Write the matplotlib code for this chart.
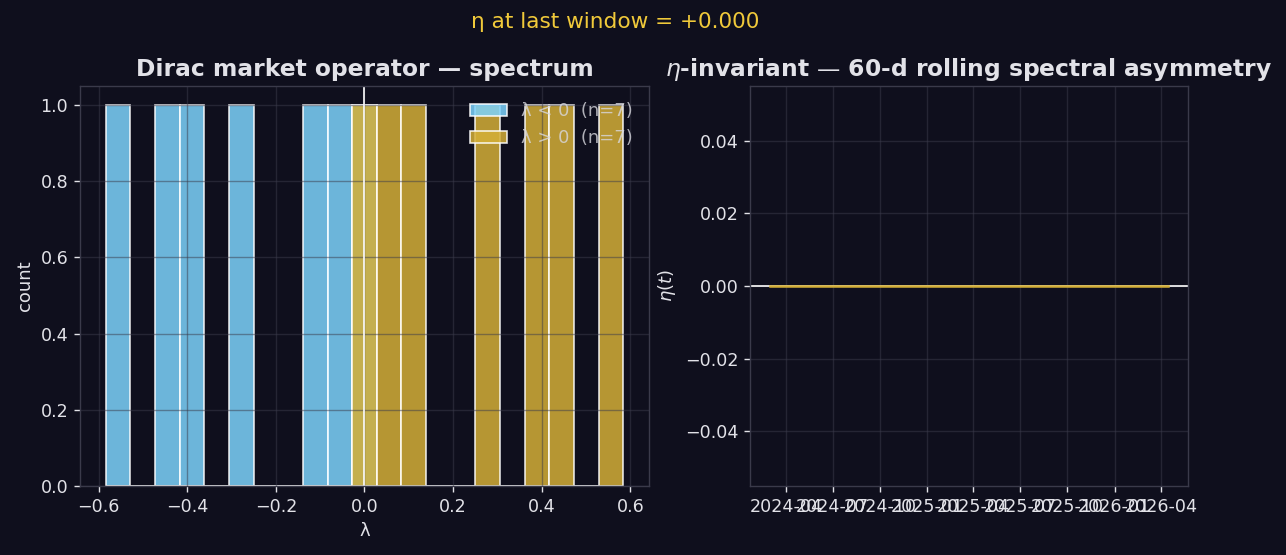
import numpy as np
import pandas as pd
import matplotlib
matplotlib.use("Agg")
import matplotlib.pyplot as plt
import matplotlib.dates as mdates

# eigenvalues of the operator (symmetric spectrum)
lam_pos = [0.012, 0.061, 0.118, 0.281, 0.392, 0.447, 0.5835]
lam_neg = [-0.012, -0.061, -0.118, -0.281, -0.392, -0.447, -0.5835]

# rolling eta-invariant, 60-d windows
eta_start = "2024-03-01"
eta_end = "2026-04-15"
eta_level = 0.0

BG = "#0f0f1d"
FG = "#e2e2e8"
GRID = "#3c3c4c"
BLUE = "#7dd3fc"
GOLD = "#d4af37"

plt.rcParams.update({
    "font.family": ["DejaVu Sans"],
    "figure.facecolor": BG,
    "axes.facecolor": BG,
    "axes.edgecolor": "#3a3a4a",
    "axes.linewidth": 1.0,
    "axes.labelcolor": FG,
    "axes.labelpad": 4.8,
    "xtick.color": FG,
    "ytick.color": FG,
    "xtick.major.size": 4.2,
    "ytick.major.size": 4.2,
    "xtick.major.width": 1.0,
    "ytick.major.width": 1.0,
    "xtick.major.pad": 4.2,
    "ytick.major.pad": 4.2,
    "xtick.labelsize": 12.6,
    "ytick.labelsize": 12.6,
    "text.color": FG,
    "font.size": 13,
})

fig = plt.figure(figsize=(12.86, 5.55), dpi=100)
ax1 = fig.add_axes([80 / 1286, 1 - 486 / 555, 569 / 1286, 400 / 555])
ax2 = fig.add_axes([750 / 1286, 1 - 486 / 555, 438 / 1286, 400 / 555])

spec = np.array(lam_neg + lam_pos)
bins = np.linspace(spec.min(), spec.max(), 22)
ax1.hist(lam_neg, bins=bins, color=BLUE, alpha=0.85, edgecolor="white",
         linewidth=1.2, label=f"λ < 0  (n={len(lam_neg)})")
ax1.hist(lam_pos, bins=bins, color=GOLD, alpha=0.85, edgecolor="white",
         linewidth=1.2, label=f"λ > 0  (n={len(lam_pos)})")
ax1.axvline(0, color="white", lw=1.2)
ax1.grid(True, color=GRID, alpha=0.5, lw=1.0)
ax1.set_xlabel("λ", fontsize=13)
ax1.set_ylabel("count", fontsize=13)
ax1.set_title("Dirac market operator — spectrum", fontsize=16.8, fontweight="bold",
              color=FG, pad=7.2)
leg = ax1.legend(loc="upper right", frameon=False, fontsize=13)
for t in leg.get_texts():
    t.set_color("#d8d8de")
    t.set_alpha(0.8)

dates = pd.date_range(eta_start, eta_end, freq="B")
eta = np.full(len(dates), eta_level)
ax2.axhline(0, color="white", lw=1.2)
ax2.plot(dates, eta, color=GOLD, lw=1.8)
ax2.grid(True, color=GRID, alpha=0.5, lw=1.0)
ax2.xaxis.set_major_locator(mdates.MonthLocator(bymonth=[1, 4, 7, 10]))
ax2.xaxis.set_major_formatter(mdates.DateFormatter("%Y-%m"))
ax2.set_ylabel(r"$\eta(t)$", fontsize=13)
ax2.set_title(r"$\eta$-invariant — 60-d rolling spectral asymmetry", fontsize=16.8,
              fontweight="bold", color=FG, pad=7.2)

fig.text(615 / 1286, 1 - 22 / 555, f"η at last window = {eta[-1]:+.3f}",
         color="#f0c93a", fontsize=15.6, ha="center", va="center")

fig.savefig("out.png", facecolor=BG)
